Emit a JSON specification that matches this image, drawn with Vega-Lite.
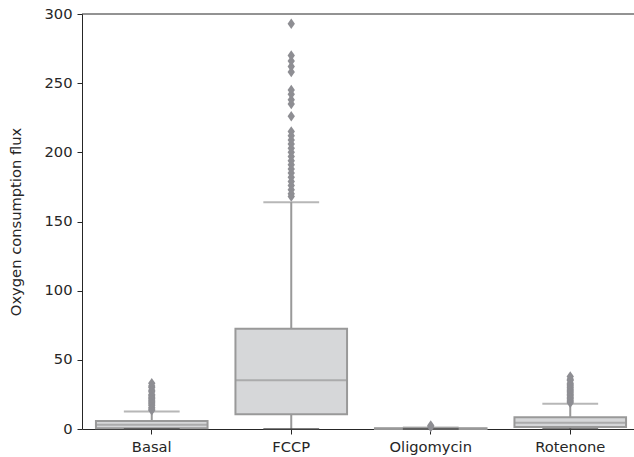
{
  "$schema": "https://vega.github.io/schema/vega-lite/v6.json",
  "autosize": "none",
  "width": 552,
  "height": 415,
  "padding": {"left": 82, "top": 14, "right": 0, "bottom": 28},
  "background": "white",
  "config": {
    "font": "DejaVu Sans",
    "view": {"stroke": null},
    "axis": {
      "domainColor": "#262626",
      "tickColor": "#262626",
      "labelColor": "#262626",
      "titleColor": "#262626",
      "labelFontSize": 14.7,
      "titleFontSize": 14.7,
      "titleFontWeight": "normal",
      "tickSize": 5,
      "grid": false,
      "zindex": 1
    }
  },
  "datasets": {
    "boxes": [
      {"condition": "Basal", "low": 0, "q1": 0.5, "median": 3, "q3": 5.8, "high": 12.7},
      {"condition": "FCCP", "low": 0, "q1": 10.6, "median": 35.2, "q3": 72.5, "high": 164},
      {"condition": "Oligomycin", "low": 0, "q1": 0, "median": 0.2, "q3": 0.5, "high": 1},
      {"condition": "Rotenone", "low": 0, "q1": 1.5, "median": 4.5, "q3": 8.5, "high": 18.3}
    ],
    "outliers": [
      {"condition": "Basal", "value": 13.5}, {"condition": "Basal", "value": 14.5}, {"condition": "Basal", "value": 15.5},
      {"condition": "Basal", "value": 17}, {"condition": "Basal", "value": 18}, {"condition": "Basal", "value": 19},
      {"condition": "Basal", "value": 20}, {"condition": "Basal", "value": 21}, {"condition": "Basal", "value": 22},
      {"condition": "Basal", "value": 23}, {"condition": "Basal", "value": 24}, {"condition": "Basal", "value": 25},
      {"condition": "Basal", "value": 27}, {"condition": "Basal", "value": 28}, {"condition": "Basal", "value": 30},
      {"condition": "Basal", "value": 31}, {"condition": "Basal", "value": 33},
      {"condition": "FCCP", "value": 168}, {"condition": "FCCP", "value": 170}, {"condition": "FCCP", "value": 173},
      {"condition": "FCCP", "value": 176}, {"condition": "FCCP", "value": 179}, {"condition": "FCCP", "value": 182},
      {"condition": "FCCP", "value": 185}, {"condition": "FCCP", "value": 188}, {"condition": "FCCP", "value": 191},
      {"condition": "FCCP", "value": 194}, {"condition": "FCCP", "value": 197}, {"condition": "FCCP", "value": 200},
      {"condition": "FCCP", "value": 203}, {"condition": "FCCP", "value": 206}, {"condition": "FCCP", "value": 209},
      {"condition": "FCCP", "value": 212}, {"condition": "FCCP", "value": 215}, {"condition": "FCCP", "value": 226},
      {"condition": "FCCP", "value": 235}, {"condition": "FCCP", "value": 238}, {"condition": "FCCP", "value": 242},
      {"condition": "FCCP", "value": 245}, {"condition": "FCCP", "value": 258}, {"condition": "FCCP", "value": 262},
      {"condition": "FCCP", "value": 266}, {"condition": "FCCP", "value": 270}, {"condition": "FCCP", "value": 293},
      {"condition": "Oligomycin", "value": 1.5}, {"condition": "Oligomycin", "value": 2.5},
      {"condition": "Rotenone", "value": 19}, {"condition": "Rotenone", "value": 20}, {"condition": "Rotenone", "value": 21},
      {"condition": "Rotenone", "value": 22}, {"condition": "Rotenone", "value": 23}, {"condition": "Rotenone", "value": 24},
      {"condition": "Rotenone", "value": 25}, {"condition": "Rotenone", "value": 26}, {"condition": "Rotenone", "value": 27},
      {"condition": "Rotenone", "value": 28}, {"condition": "Rotenone", "value": 29}, {"condition": "Rotenone", "value": 30},
      {"condition": "Rotenone", "value": 31}, {"condition": "Rotenone", "value": 32}, {"condition": "Rotenone", "value": 33},
      {"condition": "Rotenone", "value": 35}, {"condition": "Rotenone", "value": 36}, {"condition": "Rotenone", "value": 38}
    ]
  },
  "layer": [
    {
      "data": {"name": "boxes"},
      "mark": {"type": "rule", "color": "#999999", "strokeWidth": 2},
      "encoding": {
        "x": {
          "field": "condition",
          "type": "nominal",
          "sort": ["Basal", "FCCP", "Oligomycin", "Rotenone"],
          "scale": {"domain": ["Basal", "FCCP", "Oligomycin", "Rotenone"], "range": [0, 558], "paddingInner": 0, "paddingOuter": 0},
          "axis": {"title": null, "labelAngle": 0, "labelPadding": 5}
        },
        "y": {"field": "low", "type": "quantitative", "scale": {"domain": [0, 300], "nice": false},
          "axis": {"title": "Oxygen consumption flux", "values": [0, 50, 100, 150, 200, 250, 300], "labelPadding": 5, "titlePadding": 20}},
        "y2": {"field": "high"}
      }
    },
    {
      "data": {"name": "boxes"},
      "mark": {"type": "bar", "width": {"band": 0.8}, "fill": "#d6d7d9", "stroke": "#999999", "strokeWidth": 2},
      "encoding": {
        "x": {"field": "condition", "type": "nominal"},
        "y": {"field": "q1", "type": "quantitative"},
        "y2": {"field": "q3"}
      }
    },
    {
      "data": {"name": "boxes"},
      "mark": {"type": "tick", "color": "#999999", "thickness": 2, "size": 111.6},
      "encoding": {
        "x": {"field": "condition", "type": "nominal"},
        "y": {"field": "median", "type": "quantitative"}
      }
    },
    {
      "data": {"name": "boxes"},
      "mark": {"type": "tick", "color": "#999999", "thickness": 2, "size": 55.8},
      "encoding": {
        "x": {"field": "condition", "type": "nominal"},
        "y": {"field": "high", "type": "quantitative"}
      }
    },
    {
      "data": {"name": "boxes"},
      "mark": {"type": "tick", "color": "#4a4a4a", "thickness": 2, "size": 55.8},
      "encoding": {
        "x": {"field": "condition", "type": "nominal"},
        "y": {"field": "low", "type": "quantitative"}
      }
    },
    {
      "data": {"name": "outliers"},
      "mark": {"type": "point", "shape": "M0,-1L0.7,0L0,1L-0.7,0Z", "filled": true, "color": "#8e8e93", "opacity": 1, "size": 110},
      "encoding": {
        "x": {"field": "condition", "type": "nominal"},
        "y": {"field": "value", "type": "quantitative"}
      }
    },
    {
      "data": {"values": [{}]},
      "mark": {"type": "rule", "color": "#262626", "strokeWidth": 1},
      "encoding": {"y": {"datum": 300}}
    }
  ]
}
